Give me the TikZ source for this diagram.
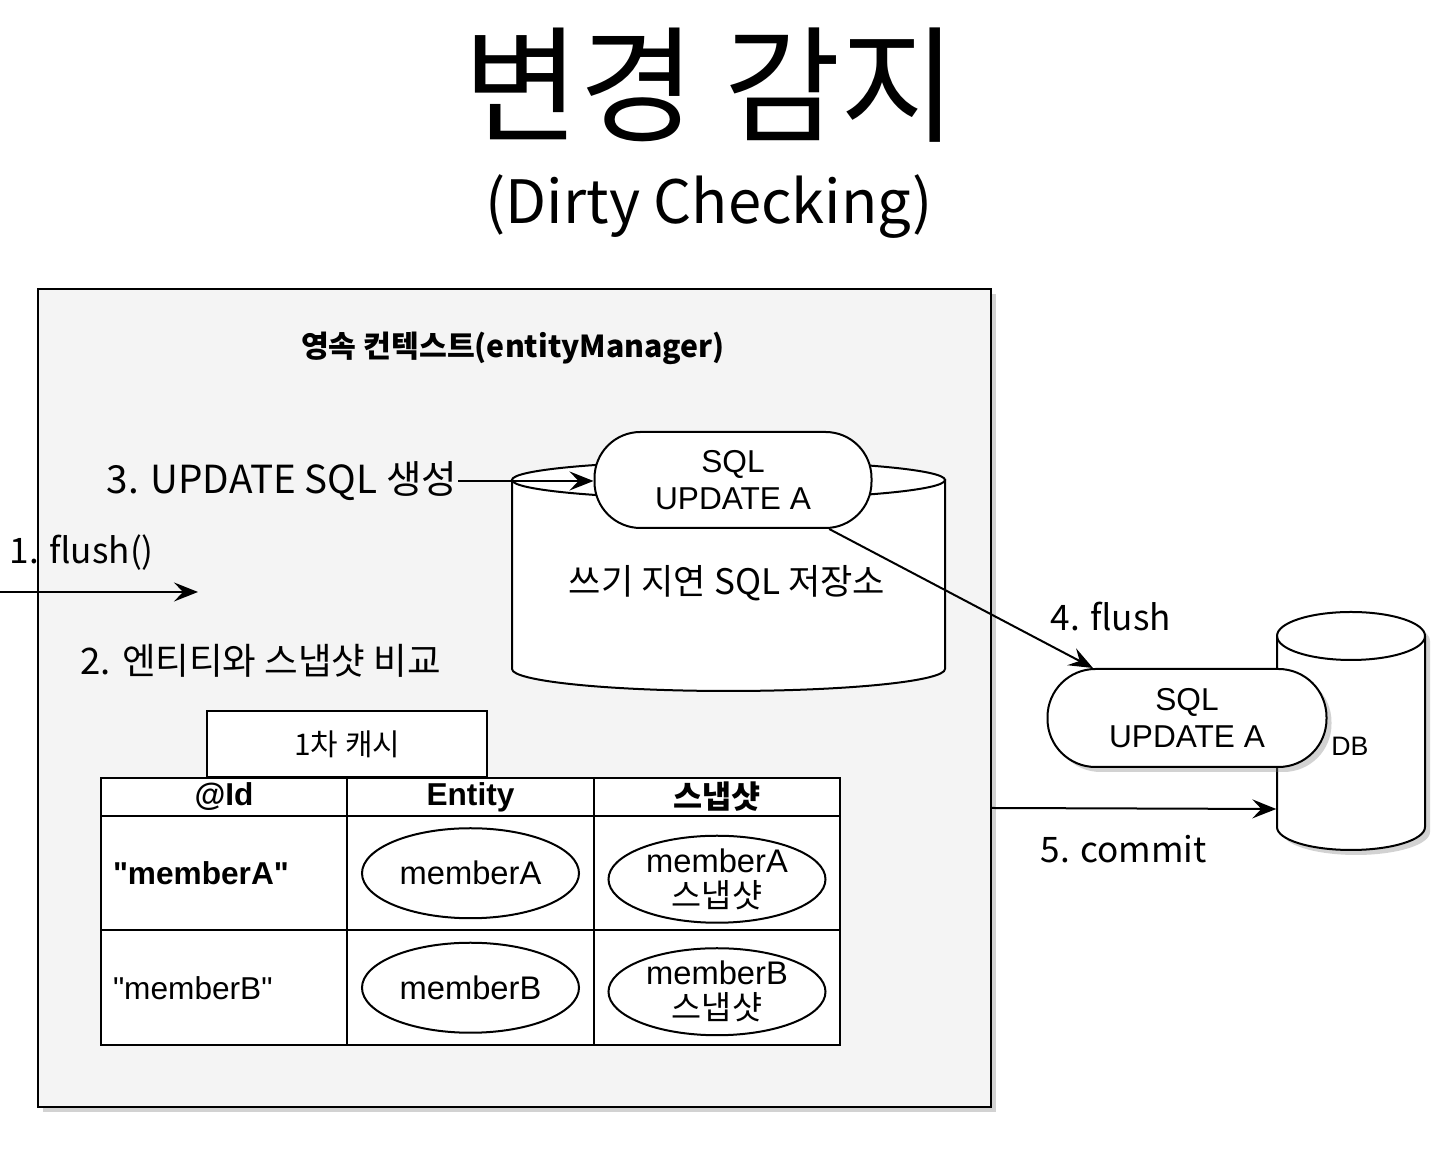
\documentclass[tikz,border=0pt]{standalone}
\usepackage{fontspec}
\setmainfont{Noto Sans CJK KR}
\newfontfamily\helv{Liberation Sans}
\usetikzlibrary{arrows.meta,positioning,shapes.geometric,shadows,backgrounds}
\definecolor{ctxgray}{HTML}{F4F4F4}

\tikzset{
  flow/.style={-{Stealth[length=2.4mm,width=1.9mm,inset=0.9mm]},line width=0.2mm},
  link/.style={line width=0.2mm},
  shady/.style={drop shadow={shadow xshift=0.5mm,shadow yshift=-0.5mm,opacity=0.35}},
  capsule/.style={draw,fill=white,line width=0.2mm,rounded corners=4.6mm,
    minimum width=27.7mm,minimum height=9.6mm,inner sep=0,align=center,
    font=\helv\fontsize{9}{10.5}\selectfont},
  step lbl/.style={inner sep=0,font=\fontsize{10}{12}\selectfont},
  cell/.style={draw,fill=white,line width=0.2mm,minimum width=24.65mm,inner sep=0,outer sep=0,
    font=\helv\fontsize{9}{11}\selectfont},
  head/.style={cell,minimum height=3.8mm,font=\helv\bfseries\fontsize{9}{11}\selectfont},
  row/.style={cell,minimum height=11.45mm,text width=22.2mm,align=left},
  obj/.style={ellipse,draw,line width=0.2mm,minimum width=21.7mm,minimum height=9mm,inner sep=0,
    align=center,font=\helv\fontsize{9.3}{10}\selectfont},
}

\begin{document}
\begin{tikzpicture}[x=0.1mm,y=-0.1mm]
  \useasboundingbox[fill=white] (0,0) rectangle (1456,1152);

  % title
  \node[inner sep=0,font=\fontsize{36}{42}\selectfont] (ttl) at (710,85) {변경 감지};
  \node[inner sep=0,font=\fontsize{17}{20}\selectfont] (subttl) at (709,207) {(Dirty Checking)};

  % persistence context
  \node[draw,fill=ctxgray,line width=0.2mm,shady,minimum width=95.3mm,minimum height=81.8mm,inner sep=0]
    (pc) at (514.5,698) {};
  \node[inner sep=0,font=\bfseries\fontsize{8.6}{10}\selectfont] (pclbl) at (513,348) {영속 컨텍스트(entityManager)};

  % write-behind store
  \draw[link,fill=white] (512,480) -- (512,669) arc[start angle=180,end angle=0,x radius=216.5,y radius=22] -- (945,480) -- cycle;
  \draw[link,fill=white] (728.5,480) ellipse[x radius=216.5,y radius=19];
  \node[step lbl] (storelbl) at (727,583) {쓰기 지연 SQL 저장소};
  \node[capsule] (sql1) at (733,480) {SQL\\UPDATE A};

  \node[step lbl,anchor=east,font=\fontsize{11}{13}\selectfont] (upd) at (458,481) {3. UPDATE SQL 생성};
  \draw[flow] (upd.east) -- (sql1.west |- upd.east);

  \coordinate (src) at (0,592);
  \coordinate (srcend) at (198,592);
  \node[step lbl,anchor=west] (fl1) at (9,553) {1. flush()};
  \draw[flow] (src) -- (srcend);

  \node[step lbl,anchor=west,font=\fontsize{10.4}{12}\selectfont] (cmp) at (80,661) {2. 엔티티와 스냅샷 비교};

  % first-level cache
  \node[head] (id0) at (224,797) {@Id};
  \node[head,right=0mm of id0] (ent0) {Entity};
  \node[head,right=0mm of ent0,font=\bfseries\fontsize{9}{11}\selectfont] (snp0) {스냅샷};
  \node[row,below=0mm of id0,font=\helv\bfseries\fontsize{9}{11}\selectfont] (id1) {"memberA"};
  \node[cell,minimum height=11.45mm,below=0mm of ent0] (ent1) {};
  \node[cell,minimum height=11.45mm,below=0mm of snp0] (snp1) {};
  \node[row,below=0mm of id1] (id2) {"memberB"};
  \node[cell,minimum height=11.45mm,below=0mm of ent1] (ent2) {};
  \node[cell,minimum height=11.45mm,below=0mm of snp1] (snp2) {};
  \node[draw,fill=white,line width=0.2mm,minimum width=28mm,minimum height=6.6mm,inner sep=0,
    above=0mm of id0.north east,font=\fontsize{8.5}{10}\selectfont] (cache) {1차 캐시};

  \node[obj] (ma) at (ent1) {memberA};
  \node[obj] (mb) at (ent2) {memberB};
  \node[obj,minimum height=8.7mm] (sa) at ([yshift=-0.6mm]snp1.center) {memberA\\\rmfamily 스냅샷};
  \node[obj,minimum height=8.7mm] (sb) at ([yshift=-0.4mm]snp2.center) {memberB\\\rmfamily 스냅샷};

  % database
  \node[inner sep=0,minimum width=14.8mm,minimum height=19.1mm] (db) at (1351,731.5) {};
  \draw[link,fill=white,shady] (1277,636) -- (1277,827) arc[start angle=180,end angle=0,x radius=74,y radius=23]
    -- (1425,636) arc[start angle=360,end angle=180,x radius=74,y radius=24] -- cycle;
  \draw[link] (1277,636) arc[start angle=180,end angle=0,x radius=74,y radius=24];
  \node[inner sep=0,font=\helv\fontsize{7.6}{9}\selectfont] (dblbl) at (1350,746) {DB};
  \node[capsule,shady,minimum width=27.9mm,minimum height=9.8mm,rounded corners=4.8mm] (sql2) at (1187,718) {SQL\\UPDATE A};

  \begin{scope}[on background layer]
    \draw[link] (pc.east |- 0,692) -- (sql2.west |- 0,692);
  \end{scope}
  \draw[flow] (sql1.-27) -- (sql2.152);
  \node[step lbl,anchor=west] (fl4) at (1050,617) {4. flush};
  \draw[flow] (pc.east |- 0,808) -- (db.west |- 0,809);
  \node[step lbl,anchor=west] (cmt) at (1040,849) {5. commit};
\end{tikzpicture}
\end{document}
